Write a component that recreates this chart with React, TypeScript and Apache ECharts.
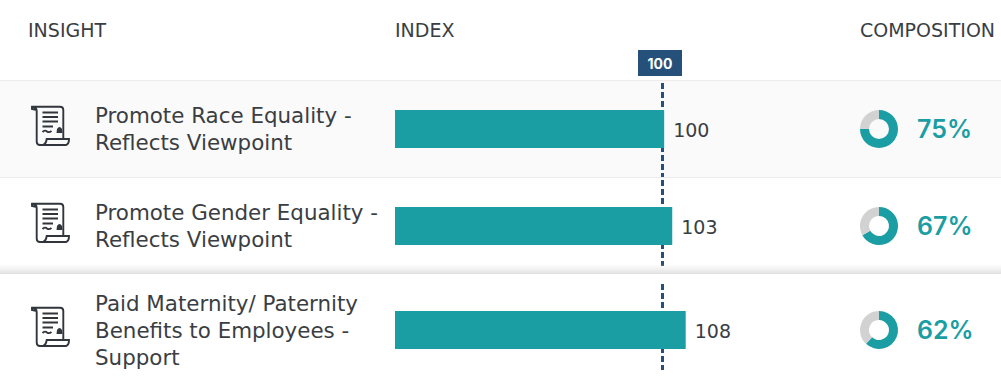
import React, { useEffect, useRef } from "react";
import * as echarts from "echarts";

const insights = [
  "Promote Race Equality -\nReflects Viewpoint",
  "Promote Gender Equality -\nReflects Viewpoint",
  "Paid Maternity/ Paternity\nBenefits to Employees -\nSupport",
];
const indexValues = [100, 103, 108];
const compositionValues = [75, 67, 62];
const headers = ["INSIGHT", "INDEX", "COMPOSITION"];
const referenceIndex = 100;

const rowCenters = [129, 226, 330];
const lineSpans = [[83, 177], [180, 266], [284, 370]];
const TEAL = "#1a9da3";
const INK = "#3a3e43";
const NAVY = "#25507a";
const FONT = "'DejaVu Sans', Inter, sans-serif";
const NUM_FONT = "Inter, 'Noto Sans', sans-serif";

const ICON_D =
  "M1 -22.3 L29 -22.3 Q32.3 -22.3 32.3 -19 L32.3 9.5 M5.7 -18 L5.7 12.5 Q5.7 16 9 16 L35 16 Q38 15 38 10 L15.7 10 Q15 15 12 16 " +
  "M5.7 -18 Q5.7 -22 1 -22.3 L1 -20 L5.7 -19 " +
  "M11.5 -16.5 L27 -16.5 M11.5 -12 L27 -12 M11.5 -7.5 L27 -7.5 M11.5 -2.5 L22 -2.5 " +
  "M11.5 3 Q14 0.5 16 2.5 Q18 4 20.5 2";
const SEAL_D = "M25.5 4 L26 0 Q28.5 -4 31 0 L31.5 4 Z";
echarts.graphic.registerShape("insightIcon", echarts.graphic.extendPath(ICON_D, {}));
echarts.graphic.registerShape("insightSeal", echarts.graphic.extendPath(SEAL_D, {}));

export default function App() {
  const ref = useRef<HTMLDivElement>(null);
  useEffect(() => {
    const chart = echarts.init(ref.current!, undefined, { renderer: "svg" });
    const ids = insights.map((_, i) => i);
    chart.setOption({
      animation: false,
      backgroundColor: "#ffffff",
      grid: ids.map((i) => ({
        left: 395,
        right: 283,
        top: rowCenters[i] - 40,
        height: 80,
      })),
      xAxis: ids.map((i) => ({
        type: "value",
        gridIndex: i,
        min: 0,
        max: 120,
        show: false,
      })),
      yAxis: ids.map((i) => ({
        type: "category",
        gridIndex: i,
        data: [insights[i]],
        axisLine: { show: false },
        axisTick: { show: false },
        axisLabel: {
          align: "left",
          margin: 300,
          fontFamily: FONT,
          fontSize: 21.4,
          lineHeight: 27,
          color: INK,
        },
      })),
      series: [
        ...ids.map((i) => ({
          type: "bar",
          xAxisIndex: i,
          yAxisIndex: i,
          z: 3,
          barWidth: 38,
          data: [indexValues[i]],
          itemStyle: { color: TEAL },
          label: {
            show: true,
            position: "right",
            distance: 9,
            offset: [0, 1],
            fontFamily: FONT,
            fontSize: 19,
            color: INK,
          },
          markLine: {
            silent: true,
            symbol: "none",
            z: 1,
            label: { show: false },
            lineStyle: { color: NAVY, width: 3, type: [6, 3], opacity: 1 },
            data: [
              [
                { xAxis: referenceIndex - 0.7, y: lineSpans[i][0] },
                { xAxis: referenceIndex - 0.7, y: lineSpans[i][1] },
              ],
            ],
          },
        })),
        ...ids.map((i) => ({
          type: "pie",
          center: [879, rowCenters[i]],
          radius: [10, 19],
          startAngle: 90,
          clockwise: true,
          silent: true,
          label: { show: false },
          labelLine: { show: false },
          data: [
            { value: compositionValues[i], itemStyle: { color: TEAL } },
            { value: 100 - compositionValues[i], itemStyle: { color: "#d2d2d2" } },
          ],
        })),
      ],
      graphic: [
        { type: "rect", z: 0, shape: { x: 0, y: 80, width: 1001, height: 98 }, style: { fill: "#fafafa", stroke: "none" } },
        { type: "rect", z: 0, shape: { x: 0, y: 80, width: 1001, height: 1 }, style: { fill: "#ececec" } },
        { type: "rect", z: 0, shape: { x: 0, y: 177, width: 1001, height: 1 }, style: { fill: "#ececec" } },
        {
          type: "rect",
          z: 10,
          shape: { x: 0, y: 264, width: 1001, height: 10 },
          style: {
            fill: new echarts.graphic.LinearGradient(0, 0, 0, 1, [
              { offset: 0, color: "rgba(232,232,232,0)" },
              { offset: 1, color: "rgba(224,224,224,1)" },
            ]),
          },
        },
        ...headers.map((h, i) => ({
          type: "text",
          x: [28, 395, 860][i],
          y: 30,
          z: 10,
          style: { text: h, fontFamily: FONT, fontSize: 19, fill: INK, textVerticalAlign: "middle" },
        })),
        { type: "rect", z: 10, shape: { x: 638, y: 50, width: 44, height: 26 }, style: { fill: NAVY } },
        {
          type: "text",
          x: 660,
          y: 63,
          z: 11,
          style: {
            text: String(referenceIndex),
            fontFamily: NUM_FONT,
            fontSize: 14,
            fontWeight: 700,
            fill: "#ffffff",
            textAlign: "center",
            textVerticalAlign: "middle",
          },
        },
        ...ids.map((i) => ({
          type: "insightIcon",
          x: 31,
          y: rowCenters[i],
          z: 5,
          style: { fill: "none", stroke: "#30363c", lineWidth: 1.9 },
        })),
        ...ids.map((i) => ({
          type: "insightSeal",
          x: 31,
          y: rowCenters[i],
          z: 5,
          style: { fill: "#30363c", stroke: "none" },
        })),
        ...ids.map((i) => ({
          type: "text",
          x: 917,
          y: rowCenters[i],
          z: 5,
          style: {
            text: `${compositionValues[i]}%`,
            fontFamily: NUM_FONT,
            fontSize: 25,
            fontWeight: 600,
            fill: TEAL,
            textVerticalAlign: "middle",
          },
        })),
      ],
    });
    return () => chart.dispose();
  }, []);
  return (
    <div
      ref={ref}
      style={{ position: "fixed", left: 0, top: 0, width: 1001, height: 377 }}
    />
  );
}
